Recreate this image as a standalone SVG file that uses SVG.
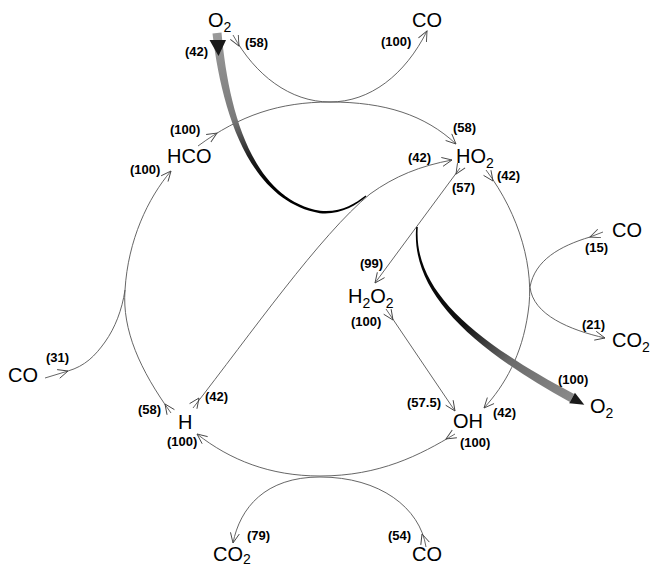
<svg xmlns="http://www.w3.org/2000/svg" xmlns:xlink="http://www.w3.org/1999/xlink" width="650" height="567" viewBox="0 0 650 567">
<style>
  .node { font-family: "Liberation Sans", Arial, sans-serif; font-size: 20px; fill: #000; }
  .sub { font-size: 14px; }
  .lbl { font-family: "Liberation Sans", Arial, sans-serif; font-size: 13px; font-weight: bold; fill: #000; }
  .edge { fill: none; stroke: #555; stroke-width: 0.9; }
  .head { fill: #1a1a1a; stroke: none; }
</style>
<defs>
  <path id="v" d="M -10,-4.5 L 0,0 L -10,4.5" fill="none" stroke="#444" stroke-width="0.9"/>
  <linearGradient id="gTop" gradientUnits="userSpaceOnUse" x1="217" y1="33" x2="262" y2="185">
    <stop offset="0" stop-color="#9a9a9a"/>
    <stop offset="0.55" stop-color="#7a7a7a"/>
    <stop offset="0.8" stop-color="#222"/>
    <stop offset="1" stop-color="#000"/>
  </linearGradient>
  <linearGradient id="gRight" gradientUnits="userSpaceOnUse" x1="417" y1="227" x2="572" y2="398">
    <stop offset="0" stop-color="#000"/>
    <stop offset="0.45" stop-color="#111"/>
    <stop offset="0.7" stop-color="#6a6a6a"/>
    <stop offset="1" stop-color="#8a8a8a"/>
  </linearGradient>
</defs>

<g id="connectors">
  <!-- O2 + HCO -> CO (top) -->
  <path class="edge" d="M 233,35 C 255,75 290,102 330,102 C 370,102 405,75 427,31"/>
  <use xlink:href="#v" href="#v" transform="translate(239,46) rotate(62)"/>
  <use xlink:href="#v" href="#v" transform="translate(427,31) rotate(-63)"/>

  <!-- HCO -> HO2 -->
  <path class="edge" d="M 198,146 C 240,115 280,102 330,102 C 385,102 425,115 456,144"/>
  <use xlink:href="#v" href="#v" transform="translate(217,133) rotate(-32)"/>
  <use xlink:href="#v" href="#v" transform="translate(456,144) rotate(43)"/>

  <!-- H -> HCO (left) -->
  <path class="edge" d="M 171,413 C 140,370 122,330 125,290 C 128,240 148,198 171,171"/>
  <use xlink:href="#v" href="#v" transform="translate(165,404) rotate(-125)"/>
  <use xlink:href="#v" href="#v" transform="translate(171,171) rotate(-50)"/>

  <!-- CO (left) joining -->
  <path class="edge" d="M 45,378 L 68,371 C 85,366 95,356 105,342 C 115,328 122,310 125,290"/>
  <use xlink:href="#v" href="#v" transform="translate(68,371) rotate(-17)"/>

  <!-- H -> HO2 -->
  <path class="edge" d="M 193,408 C 250,335 320,235 370,194 C 395,176 420,166 452,160"/>
  <use xlink:href="#v" href="#v" transform="translate(199,398) rotate(-55)"/>
  <use xlink:href="#v" href="#v" transform="translate(452,160) rotate(-11)"/>

  <!-- HO2 -> H2O2 -->
  <path class="edge" d="M 460,168 L 375,283"/>
  <use xlink:href="#v" href="#v" transform="translate(456,174) rotate(122)"/>
  <use xlink:href="#v" href="#v" transform="translate(375,283) rotate(126.5)"/>

  <!-- H2O2 -> OH -->
  <path class="edge" d="M 386,309 L 455,411"/>
  <use xlink:href="#v" href="#v" transform="translate(393,320) rotate(56)"/>
  <use xlink:href="#v" href="#v" transform="translate(455,411) rotate(56)"/>

  <!-- HO2 -> OH (right) -->
  <path class="edge" d="M 486,170 C 520,215 535,270 528,313 C 522,355 505,385 484,408"/>
  <use xlink:href="#v" href="#v" transform="translate(493,181) rotate(55)"/>
  <use xlink:href="#v" href="#v" transform="translate(484,408) rotate(132)"/>

  <!-- CO (right) / CO2 (right) -->
  <path class="edge" d="M 603,232 L 590,237 C 560,246 535,260 530,287 C 533,315 570,330 605,338"/>
  <use xlink:href="#v" href="#v" transform="translate(590,237) rotate(159)"/>
  <use xlink:href="#v" href="#v" transform="translate(605,338) rotate(13)"/>

  <!-- OH -> H (bottom) -->
  <path class="edge" d="M 455,434 C 420,455 380,476 320,476 C 270,476 230,460 197,434"/>
  <use xlink:href="#v" href="#v" transform="translate(446,439) rotate(149)"/>
  <use xlink:href="#v" href="#v" transform="translate(197,434) rotate(-142)"/>

  <!-- CO (bottom) -> CO2 (bottom) -->
  <path class="edge" d="M 426,547 C 420,508 380,477 320,477 C 265,477 240,508 233,543"/>
  <use xlink:href="#v" href="#v" transform="translate(422,534) rotate(-108)"/>
  <use xlink:href="#v" href="#v" transform="translate(233,543) rotate(101)"/>

  <!-- thick arrow: O2 (top) into H -> HO2 -->
  <path fill="url(#gTop)" d="M 212.5,33.5 C 221.6,110.7 248.7,201.2 319.8,213.2 C 339.9,215.1 355.3,206 366.4,196.5 L 365.6,195.5 C 354.7,204 340.1,212.9 320.2,210.8 C 251.3,198.8 228.4,109.3 221.5,32.5 Z"/>
  <path class="head" d="M 209.5,40 L 226,40 L 218.5,56 Z"/>

  <!-- thick arrow: HO2 -> O2 (right) -->
  <path fill="url(#gRight)" d="M 416.2,226.9 C 410.7,290.7 468,345.9 569.9,402 L 574.1,394 C 472,340.1 413.3,289.3 417.8,227.1 Z"/>
  <path class="head" d="M 569.2,403.3 L 574.9,392.7 L 584.3,404.7 Z"/>

  <!-- connector labels -->
  <g id="labels">
    <text class="lbl" x="185" y="56">(42)</text>
    <text class="lbl" x="245" y="47">(58)</text>
    <text class="lbl" x="381" y="46">(100)</text>
    <text class="lbl" x="170" y="134">(100)</text>
    <text class="lbl" x="130" y="174">(100)</text>
    <text class="lbl" x="453" y="132">(58)</text>
    <text class="lbl" x="408" y="162">(42)</text>
    <text class="lbl" x="452" y="192">(57)</text>
    <text class="lbl" x="497" y="180">(42)</text>
    <text class="lbl" x="360" y="268">(99)</text>
    <text class="lbl" x="351" y="326">(100)</text>
    <text class="lbl" x="585" y="252">(15)</text>
    <text class="lbl" x="582" y="329">(21)</text>
    <text class="lbl" x="46" y="362">(31)</text>
    <text class="lbl" x="138" y="414">(58)</text>
    <text class="lbl" x="205" y="401">(42)</text>
    <text class="lbl" x="167" y="446">(100)</text>
    <text class="lbl" x="407" y="407">(57.5)</text>
    <text class="lbl" x="493" y="417">(42)</text>
    <text class="lbl" x="460" y="447">(100)</text>
    <text class="lbl" x="558" y="384">(100)</text>
    <text class="lbl" x="247" y="540">(79)</text>
    <text class="lbl" x="388" y="540">(54)</text>
  </g>
</g>

<g id="n-O2-top"><text class="node" x="208" y="27">O<tspan class="sub" dy="5">2</tspan></text></g>
<g id="n-CO-top"><text class="node" x="412" y="27">CO</text></g>
<g id="n-HCO"><text class="node" x="167" y="163">HCO</text></g>
<g id="n-HO2"><text class="node" x="456" y="163">HO<tspan class="sub" dy="5">2</tspan></text></g>
<g id="n-H2O2"><text class="node" x="348" y="303">H<tspan class="sub" dy="5">2</tspan><tspan dy="-5">O</tspan><tspan class="sub" dy="5">2</tspan></text></g>
<g id="n-CO-right"><text class="node" x="612" y="237">CO</text></g>
<g id="n-CO2-right"><text class="node" x="612" y="347">CO<tspan class="sub" dy="5">2</tspan></text></g>
<g id="n-O2-right"><text class="node" x="590" y="413">O<tspan class="sub" dy="5">2</tspan></text></g>
<g id="n-OH"><text class="node" x="453" y="428">OH</text></g>
<g id="n-H"><text class="node" x="178" y="429">H</text></g>
<g id="n-CO-left"><text class="node" x="8" y="382">CO</text></g>
<g id="n-CO2-bottom"><text class="node" x="213" y="561">CO<tspan class="sub" dy="3">2</tspan></text></g>
<g id="n-CO-bottom"><text class="node" x="412" y="561">CO</text></g>
</svg>
